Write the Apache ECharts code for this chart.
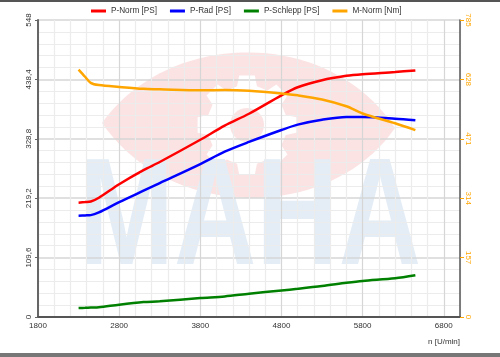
<!DOCTYPE html>
<html><head><meta charset="utf-8">
<script src="https://cdn.jsdelivr.net/npm/echarts@6/dist/echarts.min.js"></script>
<style>html,body{margin:0;padding:0;background:#fff}#c{width:500px;height:357px}</style>
</head><body><div id="c"></div>
<script>
const rpm      = [2300, 2380, 2450, 2550, 2800, 3100, 3300, 3800, 4100, 4400, 4800, 5000, 5300, 5600, 5800, 6200, 6450];
const pNorm    = [211, 212, 213, 220, 245, 271, 286, 327, 353, 375, 409, 424, 437, 445, 448, 452, 455];
const pRad     = [187, 187.5, 188, 193, 212, 233, 247, 282, 305, 323, 345, 355, 364, 369, 369, 366, 363];
const pSchlepp = [16.6, 17, 17.5, 18, 22.8, 27.5, 29, 35, 38, 43, 49, 52, 57, 63, 66.5, 71.5, 77];
const mNorm    = [654, 635, 619, 613, 608, 603, 602, 599, 600, 598, 591, 586, 575, 557, 538, 512, 494];
const xTicks     = [1800, 2800, 3800, 4800, 5800, 6800];
const leftTicks  = ['0', '109,6', '219,2', '328,8', '438,4', '548'];
const rightTicks = ['0', '157', '314', '471', '628', '785'];
const seriesNames = ['P-Norm [PS]', 'P-Rad [PS]', 'P-Schlepp [PS]', 'M-Norm [Nm]'];
const seriesColors = ['#ff0000', '#0000ff', '#008000', '#ffa500'];

function pairs(ys){ return rpm.map((x,i)=>[x, ys[i]]); }

function gearPoints(cx, cy, ro, ri, n){
  const pts = [];
  const step = Math.PI*2/n;
  for (let i=0;i<n;i++){
    const a = i*step - Math.PI/2;
    [[a - step*0.32, ri], [a - step*0.2, ro], [a + step*0.2, ro], [a + step*0.32, ri]].forEach(p=>{
      pts.push([cx + p[1]*Math.cos(p[0]), cy + p[1]*Math.sin(p[0])]);
    });
  }
  return pts;
}
function bez(p0,p1,p2,p3,t){
  const u=1-t;
  return [u*u*u*p0[0]+3*u*u*t*p1[0]+3*u*t*t*p2[0]+t*t*t*p3[0],
          u*u*u*p0[1]+3*u*u*t*p1[1]+3*u*t*t*p2[1]+t*t*t*p3[1]];
}
function eyePoints(){
  const pts=[];
  const L=[102,123], R=[395,128];
  for(let i=0;i<=40;i++) pts.push(bez(L,[170,28],[330,28],R,i/40));
  for(let i=1;i<40;i++) pts.push(bez(R,[330,222],[170,222],L,i/40));
  return pts;
}

const chart = echarts.init(document.getElementById('c'), null, {renderer:'canvas'});
const font = '"Liberation Sans", Arial, sans-serif';
const data = [pNorm, pRad, pSchlepp, mNorm];
const fs = 8;

chart.setOption({
  backgroundColor: '#ffffff',
  animation: false,
  textStyle: { fontFamily: font },
  graphic: [
    { type:'rect', z:-20, silent:true, shape:{x:0,y:0,width:500,height:2}, style:{fill:'#555'} },
    { type:'rect', z:-20, silent:true, shape:{x:0,y:353,width:500,height:4}, style:{fill:'#777'} },
    { type:'polygon', z:-20, silent:true, shape:{ points: eyePoints() }, style:{ fill:'#fbe3e3' } },
    { type:'polygon', z:-19, silent:true, shape:{ points: gearPoints(247,125,50,40,8) }, style:{ fill:'#ffffff' } },
    { type:'circle', z:-18, silent:true, shape:{cx:247, cy:125, r:17}, style:{ fill:'#fbe3e3' } },
    { type:'text', z:-17, silent:true, x:250, y:222, scaleX:0.75, scaleY:1,
      style:{ text:'MAHA', fontSize:152, fontWeight:'bold', fontFamily:'Liberation Sans', fill:'#e4edf6', align:'center', verticalAlign:'middle' } },
    { type:'text', silent:true, x:460, y:342,
      style:{ text:'n [U/min]', fontSize:fs, fontFamily:'Liberation Sans', fill:'#333', align:'right', verticalAlign:'middle' } }
  ],
  legend: {
    left: 91, top: 7, padding: 0,
    itemWidth: 15, itemHeight: 3, itemGap: 13,
    icon: 'rect',
    textStyle: { fontSize: 8.2, color: '#333', fontFamily: font },
    data: seriesNames
  },
  grid: { left: 38, right: 40, top: 20, bottom: 40, containLabel: false },
  xAxis: {
    type: 'value', min: 1800, max: 7000, interval: 200,
    axisLine: { show: true, lineStyle: { color: '#555', width: 2 } },
    axisTick: { show: false },
    axisLabel: { fontSize: fs, color: '#333', margin: 5, fontFamily: font,
      formatter: v => xTicks.indexOf(v) >= 0 ? String(v) : '' },
    splitLine: { show: true, lineStyle: { color: ['#d6d6d6','#ececec','#ececec','#ececec','#ececec'], width: 1.2 } }
  },
  yAxis: [
    {
      type: 'value', min: 0, max: 548, interval: 109.6, position: 'left',
      axisLine: { show: true, lineStyle: { color: '#666', width: 2 } },
      axisTick: { show: true, length: 3, lineStyle: { color: '#666' } },
      axisLabel: { fontSize: fs, color: '#333', rotate: 90, margin: 5, fontFamily: font,
        formatter: v => leftTicks[Math.round(v/109.6)] },
      splitLine: { show: true, lineStyle: { color: '#d6d6d6', width: 1.5 } },
      minorTick: { show: false, splitNumber: 5 },
      minorSplitLine: { show: true, lineStyle: { color: '#ececec', width: 1 } }
    },
    {
      type: 'value', min: 0, max: 785, interval: 157, position: 'right',
      axisLine: { show: true, lineStyle: { color: '#555', width: 1.5 } },
      axisTick: { show: true, length: 4, lineStyle: { color: '#ffa500' } },
      axisLabel: { fontSize: fs, color: '#ffa500', rotate: -90, margin: 4, fontFamily: font,
        formatter: v => rightTicks[Math.round(v/157)] },
      splitLine: { show: false }
    }
  ],
  series: data.map((d,i)=>({
    name: seriesNames[i], type: 'line', yAxisIndex: i===3 ? 1 : 0,
    data: pairs(d), smooth: 0.3, showSymbol: false, symbol: 'none',
    lineStyle: { color: seriesColors[i], width: 2.5 },
    itemStyle: { color: seriesColors[i] }
  }))
});
</script></body></html>
